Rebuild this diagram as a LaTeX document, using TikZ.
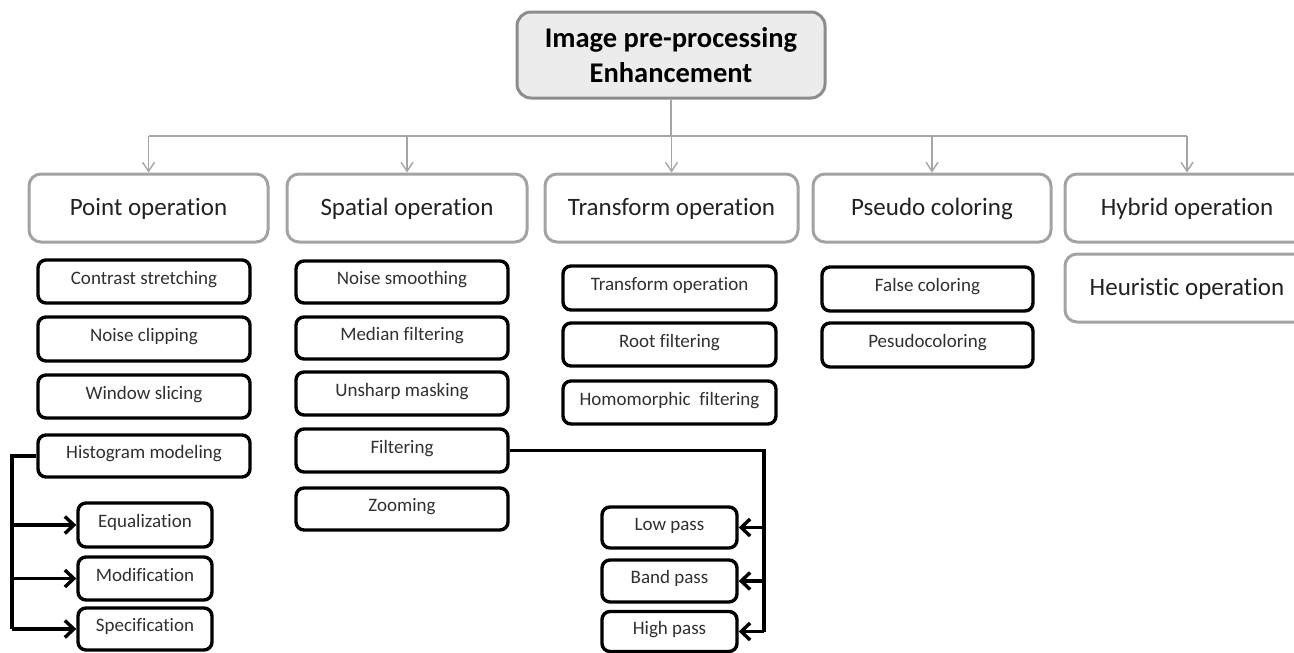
\documentclass[tikz,border=0pt]{standalone}
\usepackage{fontspec}
\setmainfont{Carlito}[Ligatures={NoCommon}]
\usetikzlibrary{arrows.meta}

\definecolor{titlefill}{HTML}{ECECEC}
\definecolor{titleedge}{HTML}{8C8C8C}
\definecolor{catedge}{HTML}{A3A3A3}
\definecolor{wireg}{HTML}{A6A6A6}
\definecolor{subtext}{HTML}{303030}
\definecolor{cattext}{HTML}{222222}

\tikzset{
  titlebox/.style={draw=titleedge, fill=titlefill, line width=3pt, rounded corners=14pt,
    minimum width=308pt, minimum height=86pt, inner sep=0pt, align=center,
    font=\fontsize{28.5}{35}\selectfont\bfseries, text=black},
  catbox/.style={draw=catedge, line width=3pt, rounded corners=12pt, minimum height=68pt,
    inner sep=0pt, text height=16.5pt, text depth=2pt,
    font=\fontsize{25}{29}\selectfont, text=cattext},
  subbox/.style={draw=black, line width=3.4pt, rounded corners=8pt, inner sep=0pt,
    text height=12.2pt, text depth=6.5pt,
    font=\fontsize{19}{23}\selectfont, text=subtext},
  gline/.style={draw=wireg, line width=1.4pt},
  garrow/.style={gline, -{Straight Barb[length=9pt, width=12pt]}},
  bline/.style={draw=black, line width=3.4pt},
  barrow/.style={bline, -{Straight Barb[length=9pt, width=17pt]}},
}

\begin{document}
\begin{tikzpicture}[x=1pt, y=-1pt]
\useasboundingbox (0,0) rectangle (1294,653);
\clip (0,0) rectangle (1294,653);

% root
\node[titlebox] (title) at (671,55) {Image pre-processing\\Enhancement};

% categories
\node[catbox, minimum width=239pt] (point)     at (148.5,208) {Point operation};
\node[catbox, minimum width=240pt] (spatial)   at (407,208)   {Spatial operation};
\node[catbox, minimum width=253pt] (transform) at (671.5,208) {Transform operation};
\node[catbox, minimum width=238pt] (pseudo)    at (932,208)   {Pseudo coloring};
\node[catbox, minimum width=244pt] (hybrid)    at (1187,208)  {Hybrid operation};
\node[catbox, minimum width=244pt] (heur)      at (1187,288)  {Heuristic operation};

% point operation items
\node[subbox, minimum width=212pt, minimum height=43pt] (cs) at (144,281.5) {Contrast stretching};
\node[subbox, minimum width=212pt, minimum height=44pt] (nc) at (144,339)   {Noise clipping};
\node[subbox, minimum width=212pt, minimum height=43pt] (ws) at (144,396.5) {Window slicing};
\node[subbox, minimum width=212pt, minimum height=42pt] (hm) at (144,456)   {Histogram modeling};
\node[subbox, minimum width=134pt, minimum height=44pt] (eq) at (145,525)   {Equalization};
\node[subbox, minimum width=134pt, minimum height=43pt] (mo) at (145,578.5) {Modification};
\node[subbox, minimum width=134pt, minimum height=42pt] (sp) at (145,629)   {Specification};

% spatial operation items
\node[subbox, minimum width=212pt, minimum height=42pt] (ns) at (402,282)   {Noise smoothing};
\node[subbox, minimum width=212pt, minimum height=42pt] (mf) at (402,338)   {Median filtering};
\node[subbox, minimum width=212pt, minimum height=43pt] (um) at (402,393.5) {Unsharp masking};
\node[subbox, minimum width=212pt, minimum height=43pt] (fi) at (402,450.5) {Filtering};
\node[subbox, minimum width=212pt, minimum height=42pt] (zo) at (402,509)   {Zooming};

% transform operation items
\node[subbox, minimum width=213pt, minimum height=44pt] (to) at (669.5,288)   {Transform operation};
\node[subbox, minimum width=213pt, minimum height=43pt] (rf) at (669.5,344.5) {Root filtering};
\node[subbox, minimum width=213pt, minimum height=43pt] (hf) at (669.5,402.5) {Homomorphic\ \ filtering};

% filter types
\node[subbox, minimum width=135pt, minimum height=41pt] (lp) at (669.5,527.5) {Low pass};
\node[subbox, minimum width=135pt, minimum height=42pt] (bp) at (669.5,581)   {Band pass};
\node[subbox, minimum width=135pt, minimum height=40pt] (hp) at (669.5,631.5) {High pass};

% pseudo coloring items
\node[subbox, minimum width=211pt, minimum height=44pt] (fc) at (927.5,289) {False coloring};
\node[subbox, minimum width=211pt, minimum height=44pt] (pc) at (927.5,345) {Pesudocoloring};

% root to categories
\coordinate (bus) at (671,136);
\draw[gline] (title.south) -- (bus);
\draw[gline] (point.north |- bus) -- (hybrid.north |- bus);
\foreach \c in {point, spatial, transform, pseudo, hybrid}
  \draw[garrow] (\c.north |- bus) -- (\c.north);

% histogram modeling branches
\coordinate (hmx) at (12,456);
\draw[bline] (hm.west) -- (hmx) -- (hmx |- sp.west);
\foreach \t in {eq, mo, sp}
  \draw[barrow] (hmx |- \t.west) -- (\t.west);

% filtering branches
\coordinate (fix) at (764,450.5);
\draw[bline] (fi.east) -- (fix) -- (fix |- hp.east);
\foreach \t in {lp, bp, hp}
  \draw[barrow] (fix |- \t.east) -- (\t.east);
\end{tikzpicture}
\end{document}
